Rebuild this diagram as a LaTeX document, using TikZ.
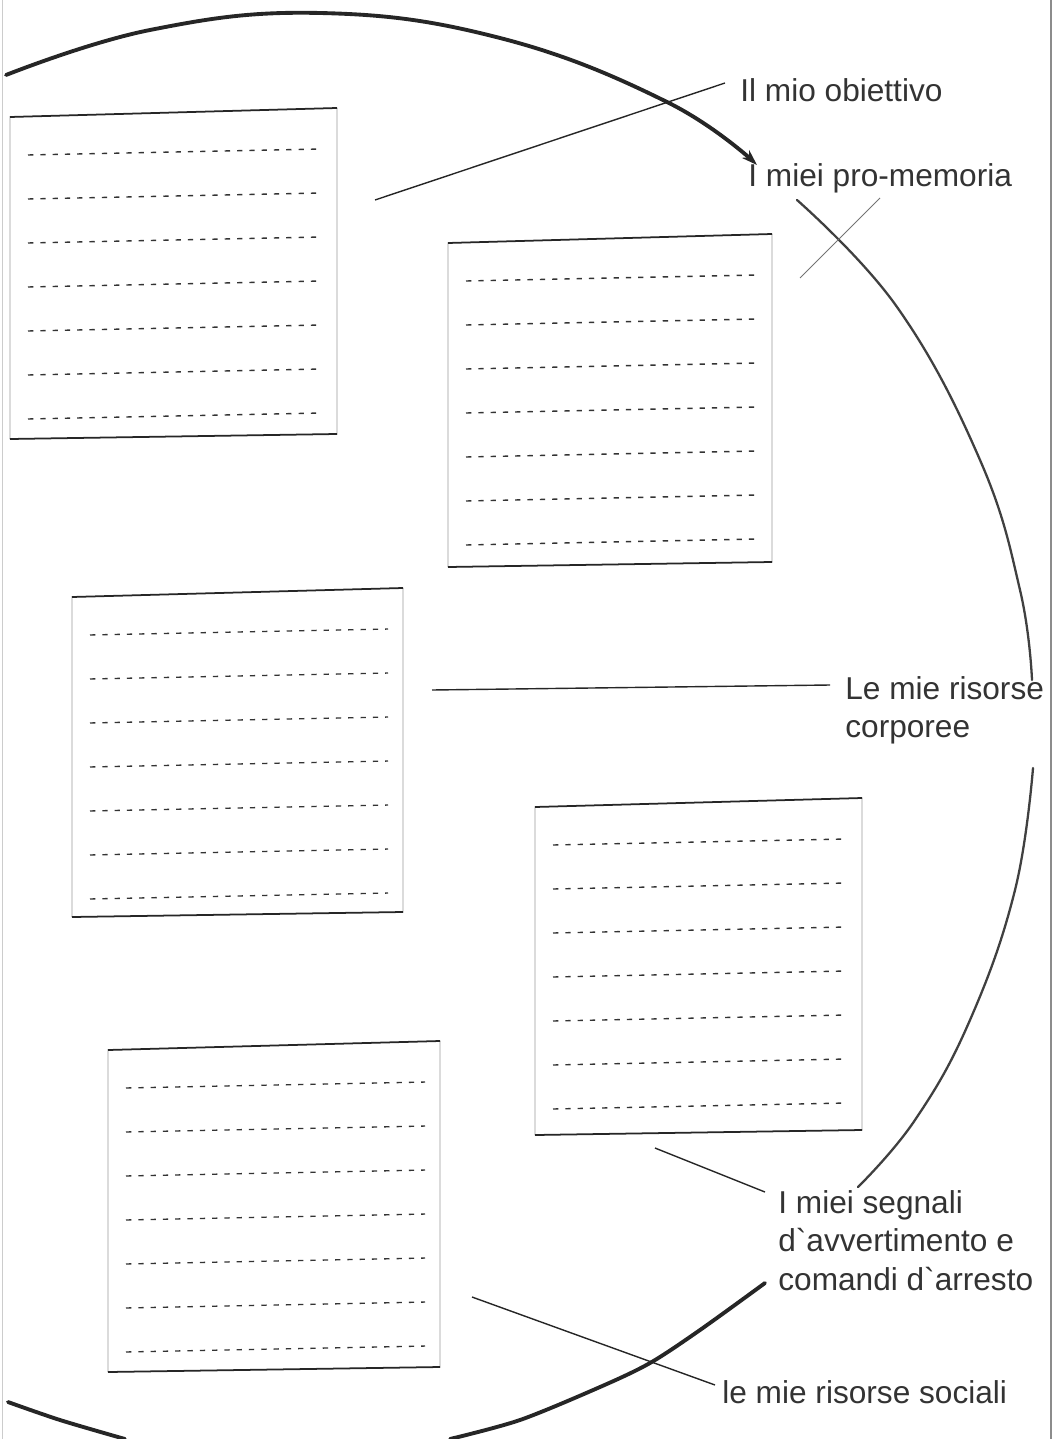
\documentclass[tikz,border=0pt]{standalone}
\usepackage{fontspec}
\setmainfont{Liberation Sans}
\usetikzlibrary{arrows.meta, calc}

\begin{document}
\begin{tikzpicture}[x=0.02cm, y=-0.02cm,
  rim/.style={line width=2.2pt, black!85, line cap=round},
  rimthin/.style={line width=1.3pt, black!75, line cap=round},
  lead/.style={line width=0.8pt, black!85},
  rowdash/.style={black!80, line width=0.8pt, dash pattern=on 3pt off 4pt},
  lbl/.style={font=\fontsize{18}{22}\selectfont, text=black!80, inner sep=0pt, align=left}]
\useasboundingbox (0,0) rectangle (1056,1439);
\draw[black!45, line width=0.6pt] (1051,0) -- (1051,1439);
\draw[black!20, line width=0.4pt] (2,0) -- (2,1439);

\foreach \bl/\bt/\br/\bb in {10/112/337/437, 448/238/772/565, 72/592/403/915, 535/802/862/1133, 108/1045/440/1370}{
  \draw[black!40, line width=0.4pt] (\bl,\bt+5) -- (\br,\bt-4) -- (\br,\bb-3) -- (\bl,\bb+2) -- cycle;
  \draw[line width=1pt, black!85] (\bl,\bt+5) -- (\br,\bt-4) (\bl,\bb+2) -- (\br,\bb-3);
  \foreach \k in {0,...,6}
    \draw[rowdash] (\bl+18,\bt+43+44*\k) -- (\br-15,\bt+37+44*\k);
}

\node[lbl, anchor=west] (obj) at (740,90) {Il mio obiettivo};
\node[lbl, anchor=west] (mem) at (748,178) {I miei pro-memoria};
\node[lbl, anchor=north west] (cor) at (845,676) {Le mie risorse\\corporee};
\node[lbl, anchor=north west] (seg) at (778,1190) {I miei segnali\\d\textasciigrave avvertimento e\\comandi d\textasciigrave arresto};
\node[lbl, anchor=west] (soc) at (722,1392) {le mie risorse sociali};

\coordinate (o1) at (375,200);
\coordinate (o3) at (432,690);
\coordinate (o4) at (655,1148);
\coordinate (o5) at (472,1297);
\draw[lead] (o1) -- ($(obj.west)+(-15,-7)$);
\draw[lead] (o3) -- ($(cor.north west)+(-15,9)$);
\draw[lead] (o4) -- ($(seg.north west)+(-13,2)$);
\draw[lead] (o5) -- ($(soc.west)+(-7,-7)$);

\draw[rim, -{Stealth[length=9pt,width=6pt]}] plot[smooth, tension=0.7] coordinates {(6,75) (150,30) (320,13) (500,38) (667,102) (757,165)};
\draw[rimthin] plot[smooth, tension=0.7] coordinates {(797,200) (897,307) (980,460) (1020,590) (1032,680)};
\draw[black!55, line width=0.5pt] (800,278) -- (880,198);
\draw[rimthin] plot[smooth, tension=0.7] coordinates {(1033,768) (1015,890) (970,1020) (915,1120) (858,1187)};
\draw[rim] plot[smooth] coordinates {(765,1283) (700,1330) (650,1363) (600,1387) (520,1420) (450,1439)};
\draw[rim] plot[smooth] coordinates {(8,1402) (60,1420) (125,1439)};
\end{tikzpicture}
\end{document}
